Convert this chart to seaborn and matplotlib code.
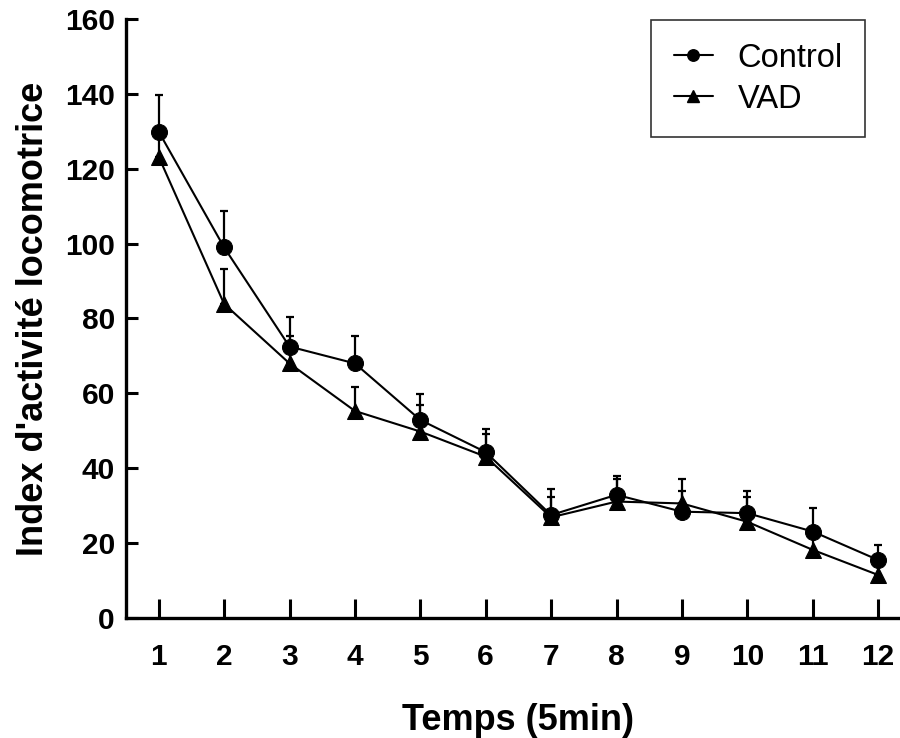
import matplotlib
matplotlib.use("Agg")
import matplotlib.pyplot as plt
import seaborn as sns
import pandas as pd
import numpy as np
from matplotlib.lines import Line2D

time_points = [1, 2, 3, 4, 5, 6, 7, 8, 9, 10, 11, 12]
control_mean = [129.9, 99.0, 72.5, 68.0, 52.9, 44.3, 27.5, 32.9, 28.4, 28.0, 23.1, 15.5]
control_se = [9.9, 9.8, 7.8, 7.4, 6.9, 6.2, 7.0, 5.1, 5.6, 6.0, 6.2, 4.0]
vad_mean = [123.2, 83.9, 68.0, 55.3, 49.8, 43.1, 26.9, 31.1, 30.6, 25.7, 18.2, 11.5]
vad_se = [7.0, 9.2, 7.3, 6.3, 7.1, 6.0, 5.3, 6.0, 6.5, 6.5, 5.0, 4.0]
group_names = ["Control", "VAD"]
x_label = "Temps (5min)"
y_label = "Index d'activité locomotrice"
y_ticks = [0, 20, 40, 60, 80, 100, 120, 140, 160]

df = pd.DataFrame({
    "Temps": time_points * 2,
    "Index": control_mean + vad_mean,
    "SE": control_se + vad_se,
    "Groupe": [group_names[0]] * len(time_points) + [group_names[1]] * len(time_points),
})

sns.set_theme(style="white")
plt.rcParams["font.family"] = ["Liberation Sans", "DejaVu Sans"]
plt.rcParams["text.color"] = "black"
plt.rcParams["axes.labelcolor"] = "black"
plt.rcParams["xtick.color"] = "black"
plt.rcParams["ytick.color"] = "black"

fig = plt.figure(figsize=(9, 7.38), dpi=100)
ax = fig.add_axes([0.14, 0.1626, 0.872, 0.8117])

# error bars (upper only)
for g in group_names:
    sub = df[df["Groupe"] == g]
    ax.errorbar(sub["Temps"], sub["Index"], yerr=[np.zeros(len(sub)), sub["SE"]],
                fmt="none", ecolor="black", elinewidth=1.6, capsize=3, capthick=1.6, zorder=2)

sns.lineplot(data=df, x="Temps", y="Index", style="Groupe",
             markers={"Control": "o", "VAD": "^"}, dashes=False,
             color="black", markersize=11.5, linewidth=1.5, markeredgecolor="black",
             legend=False, ax=ax, zorder=3)

ax.set_xlim(0.5, 12.5)
ax.set_ylim(0, 160)
ax.set_xticks(time_points)
ax.set_yticks(y_ticks)
ax.tick_params(axis="both", labelsize=21.5, direction="in", color="black", width=2.2,
               bottom=True, left=True, labelcolor="black")
ax.tick_params(axis="x", length=14, pad=18)
ax.tick_params(axis="y", length=8.5, pad=8)
for lbl in ax.get_xticklabels() + ax.get_yticklabels():
    lbl.set_fontweight("bold")
ax.set_xlabel(x_label, fontsize=26, fontweight="bold", labelpad=23, color="black")
ax.set_ylabel(y_label, fontsize=26, fontweight="bold", labelpad=10, color="black")

for s in ["top", "right"]:
    ax.spines[s].set_visible(False)
for s in ["left", "bottom"]:
    ax.spines[s].set_color("black")
    ax.spines[s].set_linewidth(2.4)

handles = [
    Line2D([], [], color="black", marker="o", markersize=11, linewidth=1.5),
    Line2D([], [], color="black", marker="^", markersize=11, linewidth=1.5),
]
leg = ax.legend(handles, group_names, loc="upper left",
                bbox_to_anchor=(651 / 900, 1 - 20 / 738), bbox_transform=fig.transFigure,
                fontsize=23.5, frameon=True, fancybox=False, edgecolor="black",
                handlelength=1.2, handletextpad=0.75, labelspacing=0.3,
                borderpad=0.7, borderaxespad=0, markerscale=0.75, labelcolor="black")
leg.get_frame().set_linewidth(1.2)

fig.savefig("out.png", dpi=100)
